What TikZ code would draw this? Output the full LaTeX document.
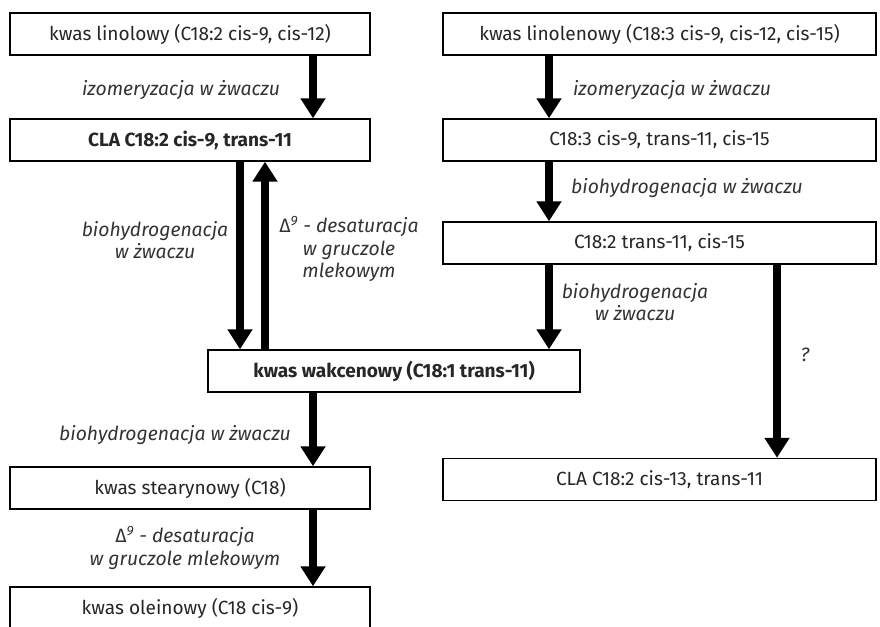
\documentclass[tikz,border=0pt]{standalone}
\usepackage{fontspec}
\setmainfont{Fira Sans}
\usetikzlibrary{arrows.meta}

\tikzset{every picture/.style={line width=0.75pt}}
\tikzset{
  box/.style={draw, line width=1.1pt, minimum height=31.5pt, inner sep=0pt,
    font=\fontsize{14.3}{16}\selectfont, text=black!85},
  lbl/.style={font=\fontsize{14.5}{17}\selectfont\itshape, text=black!80,
    align=center, inner sep=0.75pt},
  flow/.style={line width=6pt, -{Triangle[width=18pt,length=15pt]}},
}

\begin{document}
\begin{tikzpicture}[x=0.75pt,y=0.75pt,yscale=-1,xscale=1]
\useasboundingbox (0,0) rectangle (880,626);

%Boxes, left column
\node [box, minimum width=270pt] (lin) at (190,34) {kwas linolowy (C18:2 cis-9, cis-12)};
\node [box, minimum width=270pt] (cla) at (190,140) {\bfseries CLA C18:2 cis-9, trans-11};
\node [box, minimum width=279pt] (wak) at (394,371) {\bfseries kwas wakcenowy (C18:1 trans-11)};
\node [box, minimum width=270pt] (ste) at (190,488) {kwas stearynowy (C18)};
\node [box, minimum width=270pt] (ole) at (190,608) {kwas oleinowy (C18 cis-9)};
%Boxes, right column
\node [box, minimum width=325pt] (lnl) at (659.5,34) {kwas linolenowy (C18:3 cis-9, cis-12, cis-15)};
\node [box, minimum width=325pt] (tri) at (659.5,140) {C18:3 cis-9, trans-11, cis-15};
\node [box, minimum width=325pt] (dien) at (659.5,243) {C18:2 trans-11, cis-15};
\node [box, minimum width=325pt] (cla13) at (659.5,479.5) {CLA C18:2 cis-13, trans-11};

%Arrow columns
\coordinate (cA) at (313,0);
\coordinate (cB) at (240,0);
\coordinate (cC) at (265,0);
\coordinate (cD) at (549,0);
\coordinate (cE) at (777,0);

%Arrows
\draw [flow] (lin.south -| cA) -- (cla.north -| cA);
\draw [flow] (cla.south -| cB) -- (wak.north -| cB);
\draw [flow] (wak.north -| cC) -- (cla.south -| cC);
\draw [flow] (wak.south -| cA) -- (ste.north -| cA);
\draw [flow] (ste.south -| cA) -- (ole.north -| cA);
\draw [flow] (lnl.south -| cD) -- (tri.north -| cD);
\draw [flow] (tri.south -| cD) -- (dien.north -| cD);
\draw [flow] (dien.south -| cD) -- (wak.north -| cD);
\draw [flow] (dien.south -| cE) -- (cla13.north -| cE);

% Text Node
\node [lbl] (izoL) at (181,90) {izomeryzacja w żwaczu};
% Text Node
\node [lbl] (izoR) at (672,90) {izomeryzacja w żwaczu};
% Text Node
\node [lbl] (bioL) at (155,240) {biohydrogenacja\\w żwaczu};
% Text Node
\node [lbl] (desL) at (349,249) {{\upshape Δ}\textsuperscript{9} - desaturacja\\w gruczole\\mlekowym};
% Text Node
\node [lbl] (bioR) at (687,188) {biohydrogenacja w żwaczu};
% Text Node
\node [lbl] (bioW) at (635,302) {biohydrogenacja\\w żwaczu};
% Text Node
\node [lbl] (unk) at (805,355) {?};
% Text Node
\node [lbl] (bioS) at (175,435) {biohydrogenacja w żwaczu};
% Text Node
\node [lbl] (desS) at (185,548) {{\upshape Δ}\textsuperscript{9} - desaturacja\\w gruczole mlekowym};

\end{tikzpicture}
\end{document}
